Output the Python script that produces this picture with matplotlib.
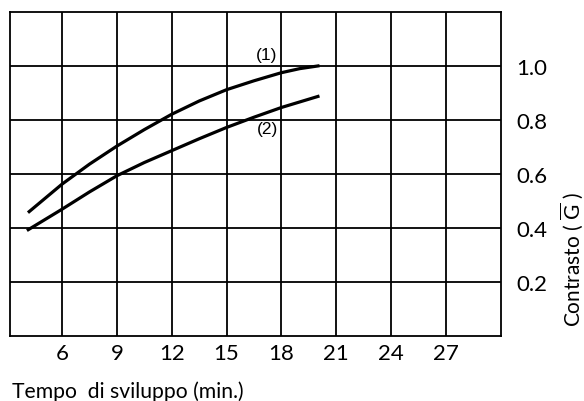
import matplotlib
matplotlib.use("Agg")
import matplotlib.pyplot as plt

plt.rcParams['font.family'] = ['Lato', 'DejaVu Sans']
plt.rcParams['mathtext.fontset'] = 'custom'
plt.rcParams['mathtext.rm'] = 'Lato'

# contrast vs development time, two developers
time_1 = [4.2, 6, 7.5, 9, 10.5, 12, 13.5, 15, 16.5, 18, 19, 20]
contrast_1 = [0.46, 0.562, 0.636, 0.703, 0.764, 0.821, 0.87, 0.912, 0.945, 0.975, 0.99, 1.0]
time_2 = [4.15, 6, 7.5, 9, 10.5, 12, 13.5, 15, 16.5, 18, 20]
contrast_2 = [0.393, 0.469, 0.533, 0.593, 0.642, 0.686, 0.73, 0.772, 0.81, 0.846, 0.887]

x_ticks = [6, 9, 12, 15, 18, 21, 24, 27]
y_ticks = [0.2, 0.4, 0.6, 0.8, 1.0]

fig = plt.figure(figsize=(5.84, 4.02), dpi=100)
ax = fig.add_axes([10 / 584, 1 - 336.7 / 402, 490.7 / 584, 323.7 / 402])

ax.plot(time_1, contrast_1, color='black', lw=2.3, solid_joinstyle='round')
ax.plot(time_2, contrast_2, color='black', lw=2.3, solid_joinstyle='round')

ax.text(17.2, 1.041, '(1)', ha='center', va='center', fontsize=12.5,
        family='Liberation Sans')
ax.text(17.25, 0.768, '(2)', ha='center', va='center', fontsize=12.5,
        family='Liberation Sans')

ax.set_xlim(3.15, 30)
ax.set_ylim(0, 1.2)
ax.set_xticks(x_ticks)
ax.set_xticklabels([str(t) for t in x_ticks])
ax.set_yticks(y_ticks)
ax.set_yticklabels(['%.1f' % v for v in y_ticks])
ax.yaxis.tick_right()
ax.tick_params(length=0, labelsize=16)
ax.tick_params(axis='y', pad=11.5)
ax.tick_params(axis='x', pad=5.5)
ax.grid(True, color='black', lw=1.3)
for s in ax.spines.values():
    s.set_linewidth(1.3)

# axis titles
fig.text(572 / 584, 1 - 260 / 402, r'Contrasto ( $\overline{\mathrm{G}}$ )',
         fontsize=15, rotation=90, ha='center', va='center')
fig.text(12 / 584, 1 - 392 / 402, 'Tempo  di sviluppo (min.)', fontsize=15.2,
         ha='left', va='center')

fig.savefig('out.png', dpi=100)
